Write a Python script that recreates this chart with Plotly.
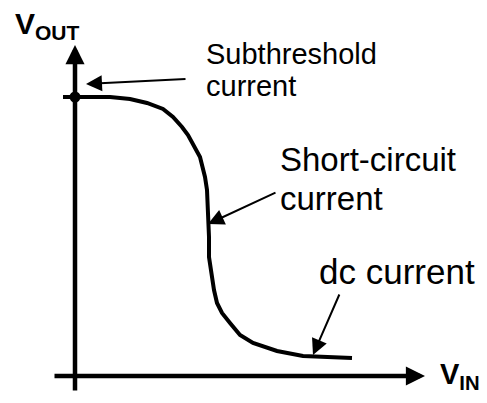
import plotly.graph_objects as go

# transfer curve of the inverter (V_IN, V_OUT), one unit = 100 px of the sketch
vin = [-0.12, 0.0, 0.35, 0.55, 0.72, 0.88, 0.98, 1.07, 1.13, 1.25, 1.30, 1.32, 1.33, 1.34,
       1.34, 1.34, 1.36, 1.37, 1.39, 1.42, 1.47, 1.55, 1.65, 1.78, 2.02, 2.28, 2.52, 2.77]
vout = [2.79, 2.79, 2.79, 2.77, 2.73, 2.67, 2.59, 2.49, 2.41, 2.19, 1.99, 1.86, 1.69, 1.53,
        1.39, 1.19, 1.06, 0.96, 0.86, 0.73, 0.63, 0.53, 0.41, 0.33, 0.25, 0.20, 0.19, 0.18]

# point where the subthreshold current is marked
dot_x = [0.0]
dot_y = [2.79]

# axis extents
x_axis = [-0.22, 3.50]
y_axis = [-0.16, 3.31]

# callouts: label lines, where the text sits, arrow tail and tip
labels = [
    dict(lines=["Subthreshold", "current"], x=1.29, y=[3.22, 2.90], size=29,
         tail=(1.12, 2.97), tip=(0.11, 2.92)),
    dict(lines=["Short-circuit", "current"], x=2.03, y=[2.17, 1.78], size=33,
         tail=(2.02, 1.84), tip=(1.33, 1.52)),
    dict(lines=["dc current"], x=2.42, y=[1.05], size=35,
         tail=(2.65, 0.83), tip=(2.38, 0.21)),
]

FONT = "Liberation Sans, Arial, sans-serif"

fig = go.Figure()

fig.add_trace(go.Scatter(
    x=vin, y=vout, mode='lines',
    line=dict(color='black', width=4), hoverinfo='skip'
))
fig.add_trace(go.Scatter(
    x=dot_x, y=dot_y, mode='markers',
    marker=dict(color='black', size=11), hoverinfo='skip'
))

# axes drawn as arrows
fig.add_annotation(x=x_axis[1], y=0, ax=x_axis[0], ay=0, xref='x', yref='y',
                   axref='x', ayref='y', showarrow=True, arrowhead=2,
                   arrowwidth=4.5, arrowsize=0.85, arrowcolor='black', text='')
fig.add_annotation(x=0, y=y_axis[1], ax=0, ay=y_axis[0], xref='x', yref='y',
                   axref='x', ayref='y', showarrow=True, arrowhead=2,
                   arrowwidth=4.5, arrowsize=0.85, arrowcolor='black', text='')

for lab in labels:
    for txt, ty in zip(lab['lines'], lab['y']):
        fig.add_annotation(x=lab['x'], y=ty, text=txt, showarrow=False,
                           xanchor='left', yanchor='middle',
                           font=dict(family=FONT, size=lab['size'], color='black'))
    fig.add_annotation(x=lab['tip'][0], y=lab['tip'][1],
                       ax=lab['tail'][0], ay=lab['tail'][1],
                       axref='x', ayref='y', showarrow=True, arrowhead=2,
                       arrowwidth=2, arrowsize=1.6, arrowcolor='black', text='')

# axis titles
fig.add_annotation(x=-0.62, y=3.51, text='<b>V<sub>OUT</sub></b>', showarrow=False,
                   xanchor='left', yanchor='middle',
                   font=dict(family=FONT, size=30, color='black'))
fig.add_annotation(x=3.63, y=0.0, text='<b>V<sub>IN</sub></b>', showarrow=False,
                   xanchor='left', yanchor='middle',
                   font=dict(family=FONT, size=29, color='black'))

# the page body adds an 8 px margin, so the figure is 8 px smaller and the ranges shifted
fig.update_xaxes(range=[-0.67, 4.12], visible=False)
fig.update_yaxes(range=[-0.27, 3.68], visible=False)
fig.update_layout(
    width=479, height=395, margin=dict(l=0, r=0, t=0, b=0),
    paper_bgcolor='white', plot_bgcolor='white', showlegend=False
)

fig.write_html("out.html")
